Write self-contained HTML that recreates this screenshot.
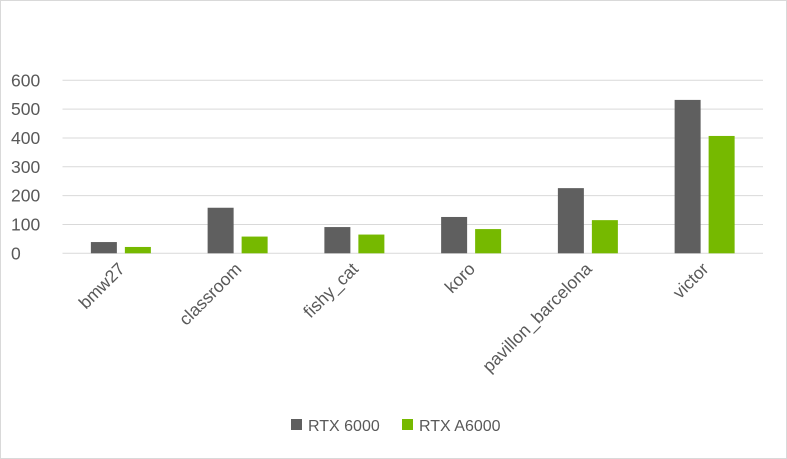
<!DOCTYPE html>
<html><head><meta charset="utf-8"><style>
body{margin:0;background:#fff}
svg{display:block;font-family:"Liberation Sans",sans-serif}
</style></head><body>
<svg width="787" height="459">
<rect x="0.5" y="0.5" width="786" height="458" fill="#fff" stroke="#d9d9d9"/>
<g id="grid"></g><g id="bars"></g><g id="xlabels"></g>
<g>
<rect x="291" y="419" width="11" height="11" fill="#5f5f5f"/>
<text x="308" y="431" font-size="16" fill="#595959">RTX 6000</text>
<rect x="402" y="419" width="11" height="11" fill="#76b900"/>
<text x="419" y="431" font-size="16" fill="#595959">RTX A6000</text>
</g>
</svg>
<script>
const categories=["bmw27","classroom","fishy_cat","koro","pavillon_barcelona","victor"];
const rtx6000=[39,158,91,126,226,532];
const rtxA6000=[22,58,65,84,115,407];
const ticks=[0,100,200,300,400,500,600];
const NS="http://www.w3.org/2000/svg";
const L=62.5,R=763,Y0=253.3,Ymax=80.3,VMAX=600;
const y=v=>Y0-(Y0-Ymax)*v/VMAX;
const cw=(R-L)/categories.length;
const cx=i=>L+cw*(i+0.5);
function mk(t,a,p){const e=document.createElementNS(NS,t);for(const k in a)e.setAttribute(k,a[k]);p.appendChild(e);return e;}
const g=document.getElementById('grid');
ticks.forEach(t=>{
 const ln=mk('line',{x1:L,x2:R,y1:y(t),y2:y(t),stroke:'#d9d9d9','stroke-width':1},g);
 
 
 const tx=mk('text',{x:11,y:y(t)+6,'font-size':17.5,fill:'#595959'},g);
 tx.textContent=t;
 
 
});
const b=document.getElementById('bars'),xl=document.getElementById('xlabels');
categories.forEach((c,i)=>{
 const r1=mk('rect',{x:cx(i)-30,y:y(rtx6000[i]),width:26,height:Y0-y(rtx6000[i]),fill:'#5f5f5f'},b);
 
 
 const r2=mk('rect',{x:cx(i)+4,y:y(rtxA6000[i]),width:26,height:Y0-y(rtxA6000[i]),fill:'#76b900'},b);
 
 
 const ax=cx(i)+5,ay=270;
 const t=mk('text',{x:ax,y:ay,'font-size':17.5,fill:'#595959','text-anchor':'end',transform:`rotate(-45 ${ax} ${ay})`},xl);
 t.textContent=c;
 
 
});
</script>
</body></html>
